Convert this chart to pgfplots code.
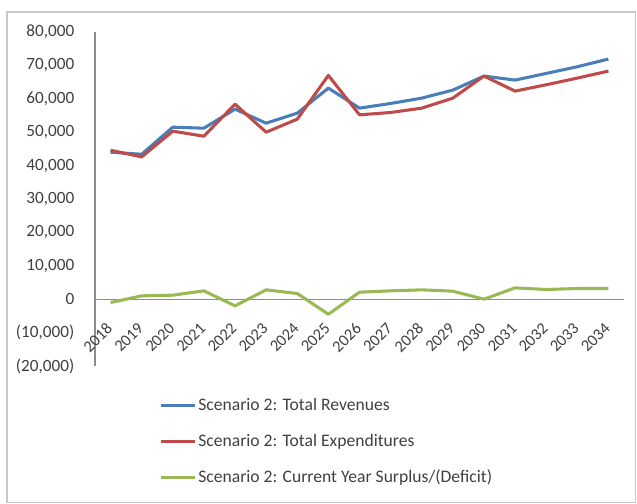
\documentclass[border=0pt]{standalone}
\usepackage{pgfplots}
\pgfplotsset{compat=1.18}
\usepackage{fontspec}
\setmainfont{Carlito}
\definecolor{revblue}{HTML}{4A7EBB}
\definecolor{expred}{HTML}{BE4B48}
\definecolor{surgreen}{HTML}{98B954}
\definecolor{labgray}{HTML}{404040}
\definecolor{axgray}{HTML}{8C8C8C}
\definecolor{framegray}{HTML}{C8C8C8}

% year, revenues, expenditures, surplus/(deficit)
\pgfplotstableread{
year rev exp sur
2018 44000 44600 -1000
2019 43400 42600 1000
2020 51500 50300 1200
2021 51200 48800 2500
2022 56900 58400 -2000
2023 52700 50000 2800
2024 55700 53900 1700
2025 63200 67000 -4500
2026 57200 55200 2100
2027 58600 55900 2500
2028 60200 57200 2800
2029 62600 60200 2400
2030 66800 66800 0
2031 65600 62300 3400
2032 67600 64200 2900
2033 69600 66200 3200
2034 71900 68300 3200
}\budget

\begin{document}
\begin{tikzpicture}
\useasboundingbox (0,0) rectangle (477.75pt,378pt);
\draw[framegray, line width=1pt] (5.25pt,1.2pt) rectangle (476.6pt,369pt);
\begin{axis}[
    at={(71.25pt,103.5pt)}, anchor=south west,
    scale only axis,
    width=396.75pt, height=250.5pt,
    xmin=2017.5, xmax=2034.5,
    ymin=-20000, ymax=80000,
    axis x line=middle,
    axis y line=left,
    axis line style={axgray, line width=0.8pt, -},
    major tick length=0pt,
    scaled y ticks=false,
    xtick={2018,2019,...,2034},
    xticklabels={2018,2019,2020,2021,2022,2023,2024,2025,2026,2027,2028,2029,2030,2031,2032,2033,2034},
    xticklabel style={yshift=-19pt, xshift=0pt, rotate=45, anchor=east,
        font=\fontsize{12.3}{14}\selectfont, text=labgray, inner sep=1pt},
    ytick={-20000,-10000,...,80000},
    yticklabels={{(20,000)},{(10,000)},0,{10,000},{20,000},{30,000},{40,000},{50,000},{60,000},{70,000},{80,000}},
    yticklabel style={font=\fontsize{12.9}{15}\selectfont, text=labgray, xshift=-12pt},
    clip=false,
    legend style={at={(0.121,-0.093)}, anchor=north west, draw=none, fill=none,
        font=\fontsize{13.2}{15}\selectfont, text=labgray, row sep=14pt, inner sep=0pt,
        nodes={inner sep=1pt}},
    legend cell align=left,
    legend image code/.code={\draw[#1] (0pt,0pt) -- (26pt,0pt);},
    every axis plot/.append style={line width=2.3pt, line join=round},
]
\addplot[revblue] table[x=year, y=rev] {\budget};
\addlegendentry{Scenario 2: Total Revenues}
\addplot[expred] table[x=year, y=exp] {\budget};
\addlegendentry{Scenario 2: Total Expenditures}
\addplot[surgreen] table[x=year, y=sur] {\budget};
\addlegendentry{Scenario 2: Current Year Surplus/(Deficit)}
\end{axis}
\end{tikzpicture}
\end{document}
